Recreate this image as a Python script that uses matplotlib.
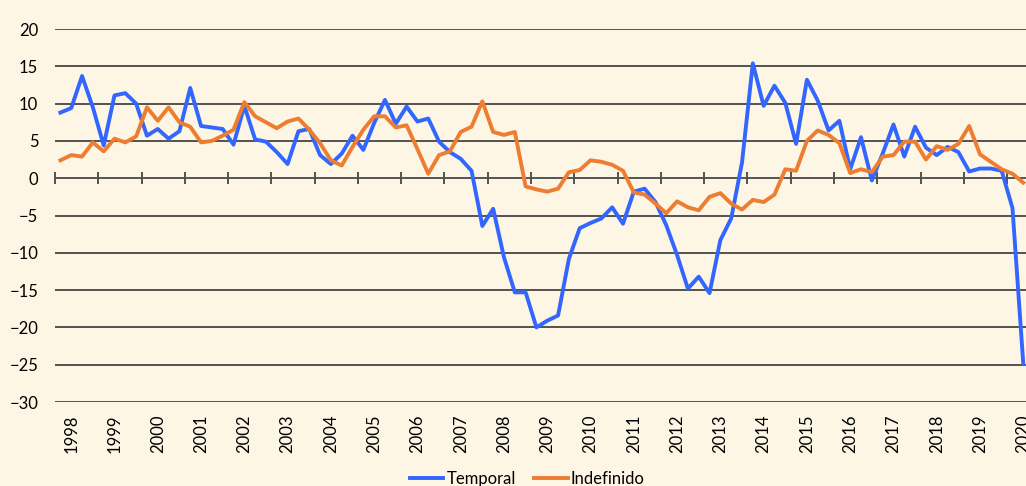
import matplotlib.pyplot as plt
import numpy as np

# quarterly series, 1998Q1 .. 2020Q2
temporal = [
    8.8, 9.4, 13.7, 9.5, 4.4, 11.1, 11.4, 10.0, 5.7, 6.6, 5.3, 6.3,
    12.1, 7.0, 6.8, 6.6, 4.5, 9.7, 5.2, 4.9, 3.5, 1.9, 6.3, 6.6,
    3.1, 1.9, 3.3, 5.7, 3.8, 7.4, 10.5, 7.3, 9.6, 7.6, 8.0, 4.9,
    3.5, 2.6, 1.0, -6.4, -4.1, -10.6, -15.3, -15.3, -20.0, -19.1, -18.4, -10.8,
    -6.7, -6.0, -5.4, -3.9, -6.1, -1.8, -1.4, -3.2, -6.3, -10.3, -14.8, -13.2,
    -15.4, -8.3, -5.4, 2.1, 15.4, 9.7, 12.4, 10.1, 4.6, 13.2, 10.4, 6.4,
    7.7, 1.2, 5.5, -0.3, 3.3, 7.2, 2.9, 6.9, 4.1, 3.1, 4.2, 3.5,
    0.9, 1.3, 1.3, 1.0, -4.0, -24.9,
]
indefinido = [
    2.4, 3.1, 2.9, 4.8, 3.6, 5.3, 4.8, 5.6, 9.5, 7.7, 9.5, 7.5,
    6.9, 4.8, 5.0, 5.7, 6.5, 10.2, 8.3, 7.5, 6.7, 7.6, 8.0, 6.5,
    4.7, 2.4, 1.7, 4.2, 6.5, 8.3, 8.3, 6.8, 7.1, 3.9, 0.6, 3.1,
    3.6, 6.2, 6.9, 10.3, 6.2, 5.8, 6.2, -1.1, -1.5, -1.8, -1.4, 0.8,
    1.1, 2.4, 2.2, 1.8, 1.0, -1.9, -2.2, -3.4, -4.7, -3.1, -3.9, -4.3,
    -2.5, -2.0, -3.4, -4.2, -2.9, -3.2, -2.2, 1.2, 1.0, 5.0, 6.4, 5.8,
    4.7, 0.7, 1.2, 0.8, 2.9, 3.1, 4.9, 4.9, 2.5, 4.3, 3.8, 4.6,
    7.0, 3.2, 2.2, 1.2, 0.6, -0.6,
]
years = [str(y) for y in range(1998, 2021)]

bg = "#FEF6E4"
blue = "#3366FF"
orange = "#ED7D31"

plt.rcParams["font.family"] = ["Lato", "DejaVu Sans"]
plt.rcParams["font.size"] = 12

fig = plt.figure(figsize=(10.26, 4.86), dpi=100, facecolor=bg)
ax = fig.add_axes([0.0536, 0.1728, 0.9464, 0.7675], facecolor=bg)

x = np.arange(len(temporal))
ax.plot(x, temporal, color=blue, lw=2.8, label="Temporal", zorder=3)
ax.plot(x, indefinido, color=orange, lw=2.8, label="Indefinido", zorder=3)

ax.set_ylim(-30, 20)
ax.set_yticks(range(-30, 21, 5))
ax.set_xlim(-0.5, 89.25)
ax.yaxis.grid(True, color="#262626", lw=1.1, zorder=1)
ax.tick_params(axis="y", length=0, pad=12, labelsize=12)

for side in ["top", "right", "left"]:
    ax.spines[side].set_visible(False)
# horizontal axis crosses at zero, ticks between years
ax.spines["bottom"].set_position(("data", 0))
ax.spines["bottom"].set_color("#595959")
ax.spines["bottom"].set_linewidth(1.1)
ax.set_xticks(np.arange(-0.5, len(temporal), 4))
ax.tick_params(axis="x", direction="inout", length=8, width=1.1,
               color="#262626", labelbottom=False)

# year labels along the bottom of the plot area
sec = ax.secondary_xaxis(0)
sec.spines["bottom"].set_visible(False)
sec.set_xticks(np.arange(1, 4 * len(years), 4))
sec.set_xticklabels(years, rotation=90)
sec.tick_params(length=0, pad=9, labelsize=12)

fig.legend(loc="center", bbox_to_anchor=(0.514, 0.014), ncol=2,
           frameon=False, handlelength=2.0, handletextpad=0.2,
           columnspacing=1.1, fontsize=12)

fig.savefig("out.png", dpi=100, facecolor=bg)
